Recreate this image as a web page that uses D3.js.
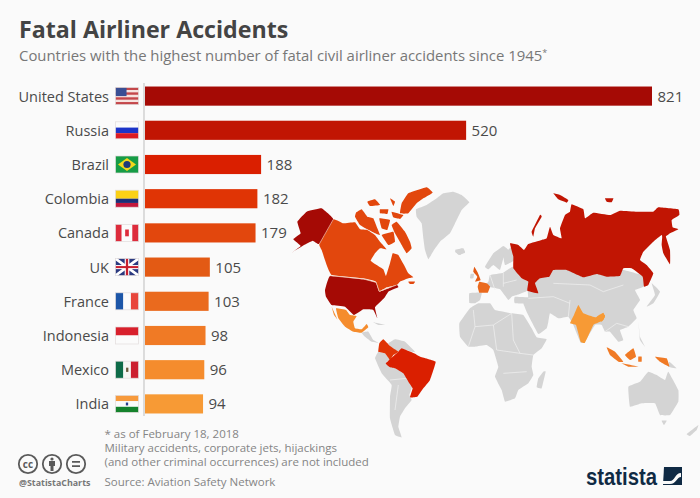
<!DOCTYPE html>
<meta charset="utf-8">
<script src="https://d3js.org/d3.v7.min.js"></script>
<style>
body { margin: 0; background: #fafafa; }
svg { display: block; font-family: "Open Sans", sans-serif; }
</style>
<body>
<div class="chart"></div>
<script>

var countries = ["United States", "Russia", "Brazil", "Colombia", "Canada", "UK", "France", "Indonesia", "Mexico", "India"];
var accidents = [821, 520, 188, 182, 179, 105, 103, 98, 96, 94];
var barColors = ["#a50a05", "#c11503", "#da1f00", "#e03405", "#e2470d", "#e35a14", "#ea6a1e", "#f07a25", "#f58c2d", "#f79a35"];
var footnotes = ["* as of February 18, 2018", "Military accidents, corporate jets, hijackings", "(and other criminal occurrences) are not included"];

var grey = "#d4d4d4";
var colorOf = function(name) { return barColors[countries.indexOf(name)]; };

// map outlines, traced by eye. each zone is a crop of the picture at 3x: [left, top]
var zones = {A: [280, 170], B: [450, 170], C: [340, 310], D: [440, 250], E: [560, 260], F: [320, 290]};

var greyLand = [
  ["A", "408,118 440,105 470,85 490,70 520,65 545,75 568,97 545,120 530,150 510,190 480,215 462,240 445,268 435,240 430,205 425,160 410,140"],
  ["A", "525,245 545,235 555,245 540,255"],
  ["C", "145,100 165,88 195,95 225,125 215,125 190,118 175,125 150,108"],
  ["C", "105,145 115,125 135,130 150,150 140,155 145,168 165,172 185,175 200,195 218,225 208,255 215,270 195,295 180,320 175,350 185,382 165,375 150,325 150,260 155,225 125,190"],
  ["F", "125,128 145,125 160,150 175,158 155,155 135,140"],
  ["F", "160,97 195,105 175,105"],
  ["C", "358,40 390,-5 415,-20 450,-20 465,0 515,10 550,15 575,55 590,82 620,88 605,115 580,135 575,170 580,195 565,220 535,240 525,265 495,275 485,240 465,200 475,170 460,120 440,105 405,110 385,110 360,80"],
  ["C", "610,185 617,185 605,235 590,232 595,205"],
  ["C", "865,230 900,215 925,185 950,195 975,210 985,185 1015,240 1015,275 990,315 960,315 945,280 905,280 870,290"],
  ["C", "965,332 980,332 972,345"],
  ["C", "1040,372 1075,345 1070,360 1050,378"],
  ["D", "88,130 125,128 120,150 105,160 88,158"],
  ["D", "118,125 145,95 150,75 190,68 218,50 245,85 264,95 262,122 230,135 215,140 205,150 180,118 150,112"],
  ["D", "135,50 160,10 190,-12 205,0 190,25 180,60 160,45 145,58"],
  ["D", "190,15 215,-10 225,30 195,45"],
  ["D", "92,72 102,72 100,85 90,85"],
  ["D", "225,140 305,145 300,160 225,160"],
  ["D", "45,0 70,-5 75,8 55,14"],
  ["E", "-100,20 0,20 100,30 190,30 260,50 250,80 225,90 240,120 220,150 230,175 205,200 180,210 190,240 175,245 150,215 135,215 125,195 105,195 75,245 62,248 40,195 25,170 -5,175 -30,160 -35,185 -40,205 -65,222 -98,160 -110,130 -95,115"],
  ["E", "275,70 300,95 280,130 260,140 285,105"],
  ["E", "235,180 240,230 255,260 240,240"],
  ["E", "328,305 350,325 325,320"]
];

var colouredLand = [
  ["Canada", "A", "160,148 190,160 225,157 240,178 262,180 285,195 300,215 320,238 300,235 285,250 272,272 290,285 310,298 318,318 330,280 338,250 355,255 372,285 385,310 400,322 385,325 360,335 350,345 320,352 298,364 288,335 250,325 155,315 140,285 125,240 118,222"],
  ["Canada", "A", "335,165 350,155 375,185 390,215 395,235 380,250 365,225 345,190"],
  ["Canada", "A", "228,128 245,118 262,140 280,145 290,170 300,195 285,190 262,178 240,165 225,140"],
  ["Canada", "A", "385,70 440,52 458,68 430,85 410,100 385,130 360,130 365,100"],
  ["Canada", "A", "262,95 285,88 300,105 270,108"],
  ["Canada", "A", "300,118 325,118 322,132 300,130"],
  ["Canada", "A", "330,85 345,95 340,108"],
  ["Canada", "A", "335,125 370,135 360,147 340,142"],
  ["Canada", "A", "298,145 330,150 322,180 305,175"],
  ["Canada", "A", "305,195 340,185 345,215 325,225"],
  ["Canada", "A", "385,335 405,335 400,342 390,342"],
  ["United States", "A", "160,148 118,222 98,212 72,225 35,248 62,228 40,208 62,190 52,155 80,125 125,115"],
  ["United States", "A", "150,318 250,328 288,338 298,365 350,345 355,352 325,365 312,385 285,412 292,445 280,420 250,418 222,435 195,410 155,405 138,380 135,360"],
  ["Mexico", "F", "48,55 78,60 90,75 110,78 100,95 105,115 125,118 140,102 145,112 125,128 100,125 75,110 55,85"],
  ["Mexico", "F", "35,50 45,72 52,88 42,75"],
  ["Colombia", "C", "130,88 150,108 175,125 160,135 150,150 135,130 115,125 118,100"],
  ["Brazil", "C", "137,160 175,125 185,115 222,130 240,140 287,155 270,210 250,235 232,260 210,262 218,235 205,215 190,190 165,175 150,172"],
  ["Russia", "B", "190,260 180,220 205,225 222,240 235,222 275,210 290,205 300,170 310,195 335,205 330,175 345,135 360,125 365,103 400,118 405,145 430,128 480,135 510,122 560,125 610,125 625,112 685,118 688,135 665,150 668,172 685,178 660,190 640,205 635,195 610,215 580,245 570,270 590,285 610,310 595,345 582,350 578,320 545,295 520,295 510,318 470,320 440,312 400,322 350,300 310,300 298,320 270,325 255,340 265,370 232,362 235,335 215,325 190,295"],
  ["Russia", "B", "638,190 645,192 660,240 660,283 640,250 635,225"],
  ["Russia", "B", "245,185 270,135 275,140 255,175 250,200"],
  ["Russia", "B", "310,70 330,75 355,90 350,98 325,88"],
  ["Russia", "B", "465,85 490,85 485,97 470,95"],
  ["France", "D", "118,95 140,100 150,110 143,128 118,128 113,110"],
  ["UK", "D", "103,50 112,65 122,90 105,95 112,80 100,65"],
  ["India", "E", "55,135 70,160 105,172 135,165 130,180 110,190 100,195 75,248 62,245 48,195 30,190 42,165"],
  ["India", "E", "110,170 130,158 135,170 125,185"],
  ["Indonesia", "E", "140,262 165,275 190,305 175,305 150,285"],
  ["Indonesia", "E", "195,285 220,265 228,290 210,300"],
  ["Indonesia", "E", "185,310 235,320 205,320"],
  ["Indonesia", "E", "235,290 245,290 245,305 235,305"],
  ["Indonesia", "E", "285,290 320,295 328,320 300,305"]
];

// a few white country borders on the grey land
var borders = [
  ["C", "400,0 405,50 385,110"], ["C", "405,50 460,45 515,10"], ["C", "460,45 470,120"], ["C", "470,120 540,130 580,135"],
  ["C", "515,10 520,90 540,130"], ["C", "490,190 560,185"], ["C", "150,210 200,205"], ["C", "165,300 175,225"],
  ["D", "150,75 165,120"], ["D", "190,68 190,110"], ["D", "230,90 190,100"],
  ["E", "-95,115 -20,110 30,130"], ["E", "-20,70 90,75 130,95 190,75"], ["E", "25,170 30,120"], ["E", "135,215 170,190 205,200"]
];

// pale line between the two northern neighbours
var usCanada = [
  ["A", "160,148 118,222"], ["A", "150,317 250,327 288,337 298,364 350,345"]
];

// flags in a 0-1 box: [x, y, w, h, colour]
var flags = {
  "United States": [[0, 0, 1, 1, "#f6e3df"], [0, 0, 1, .14, "#c4474a"], [0, .28, 1, .14, "#c4474a"], [0, .57, 1, .14, "#c4474a"], [0, .85, 1, .15, "#c4474a"], [0, 0, .48, .5, "#3a4f94"]],
  "Russia": [[0, 0, 1, .34, "#fbfbfb"], [0, .34, 1, .33, "#1c34c8"], [0, .67, 1, .33, "#dc1c24"]],
  "Brazil": [[0, 0, 1, 1, "#169c46"]],
  "Colombia": [[0, 0, 1, .5, "#fbd116"], [0, .5, 1, .25, "#1b2f78"], [0, .75, 1, .25, "#c3173c"]],
  "Canada": [[0, 0, .27, 1, "#dd2c3c"], [.27, 0, .46, 1, "#fbfbfb"], [.73, 0, .27, 1, "#dd2c3c"], [.42, .3, .16, .4, "#dd2c3c"]],
  "UK": [[0, 0, 1, 1, "#2b3a80"], [.4, 0, .2, 1, "#fff"], [0, .38, 1, .24, "#fff"], [.45, 0, .1, 1, "#c8202f"], [0, .44, 1, .12, "#c8202f"]],
  "France": [[0, 0, .34, 1, "#1c56a8"], [.34, 0, .33, 1, "#fbfbfb"], [.67, 0, .33, 1, "#e8463c"]],
  "Indonesia": [[0, 0, 1, .5, "#d8202c"], [0, .5, 1, .5, "#fbfbfb"]],
  "Mexico": [[0, 0, .34, 1, "#0e6b48"], [.34, 0, .33, 1, "#f6f6f4"], [.67, 0, .33, 1, "#cc1f30"], [.46, .38, .1, .25, "#6b5a3c"]],
  "India": [[0, 0, 1, .34, "#f79a3c"], [0, .34, 1, .33, "#fbfbfb"], [0, .67, 1, .33, "#15822c"], [.45, .42, .1, .17, "#2a3f8c"]]
};

var width = 700, height = 498;

var svg = d3.select(".chart").append("svg")
    .attr("width", width)
    .attr("height", height);

svg.append("rect").attr("width", width).attr("height", height).attr("fill", "#fafafa");

// Map first, the bars go above it
var map = svg.append("g");

var toPath = function(zone, pts, closed) {
  var z = zones[zone];
  var line = d3.line()
      .x(function(d) { return z[0] + d[0] / 3; })
      .y(function(d) { return z[1] + d[1] / 3; })
      .curve(closed ? d3.curveCardinalClosed.tension(0.75) : d3.curveLinear);
  return line(pts.split(" ").map(function(p) { return p.split(",").map(Number); }));
};

map.selectAll(".land")
    .data(greyLand)
  .enter().append("path")
    .attr("class", "land")
    .attr("d", function(d) { return toPath(d[0], d[1], true); })
    .attr("fill", grey);

map.selectAll(".border")
    .data(borders)
  .enter().append("path")
    .attr("class", "border")
    .attr("d", function(d) { return toPath(d[0], d[1], false); })
    .attr("fill", "none")
    .attr("stroke", "#f0f0f0")
    .attr("stroke-width", 0.7);

map.selectAll(".hit")
    .data(colouredLand)
  .enter().append("path")
    .attr("class", "hit")
    .attr("d", function(d) { return toPath(d[1], d[2], true); })
    .attr("fill", function(d) { return colorOf(d[0]); });

map.selectAll(".usca")
    .data(usCanada)
  .enter().append("path")
    .attr("class", "usca")
    .attr("d", function(d) { return toPath(d[0], d[1], false); })
    .attr("fill", "none")
    .attr("stroke", "#f6c9b0")
    .attr("stroke-width", 0.7);

// Bars
var x = d3.scaleLinear().domain([0, 821]).range([145, 652]);
var y = d3.scaleBand().domain(countries).range([79, 421]).paddingInner(0.44).paddingOuter(0.22);

svg.selectAll(".bar")
    .data(countries)
  .enter().append("rect")
    .attr("class", "bar")
    .attr("x", x(0))
    .attr("y", function(d) { return y(d); })
    .attr("width", function(d, i) { return x(accidents[i]) - x(0); })
    .attr("height", y.bandwidth())
    .attr("fill", function(d, i) { return barColors[i]; });

svg.append("line")
    .attr("x1", 144).attr("x2", 144)
    .attr("y1", 83).attr("y2", 416)
    .attr("stroke", "#bdbdbd");

svg.selectAll(".country")
    .data(countries)
  .enter().append("text")
    .attr("class", "country")
    .attr("x", 109)
    .attr("y", function(d) { return y(d) + y.bandwidth() / 2 + 5.5; })
    .attr("text-anchor", "end")
    .attr("font-size", 14.5)
    .attr("fill", "#4a4a4a")
    .text(function(d) { return d; });

svg.selectAll(".value")
    .data(countries)
  .enter().append("text")
    .attr("class", "value")
    .attr("x", function(d, i) { return x(accidents[i]) + 5.5; })
    .attr("y", function(d) { return y(d) + y.bandwidth() / 2 + 5.5; })
    .attr("font-size", 15)
    .attr("fill", "#4a4a4a")
    .text(function(d, i) { return accidents[i]; });

// Flags
var flagW = 23, flagH = 17;
var flag = svg.selectAll(".flag")
    .data(countries)
  .enter().append("g")
    .attr("class", "flag")
    .attr("transform", function(d) { return "translate(115.5," + (y(d) + y.bandwidth() / 2 - flagH / 2) + ")"; });

flag.selectAll("rect")
    .data(function(d) { return flags[d]; })
  .enter().append("rect")
    .attr("x", function(d) { return d[0] * flagW; })
    .attr("y", function(d) { return d[1] * flagH; })
    .attr("width", function(d) { return d[2] * flagW; })
    .attr("height", function(d) { return d[3] * flagH; })
    .attr("fill", function(d) { return d[4]; });

flag.append("rect")
    .attr("width", flagW).attr("height", flagH)
    .attr("fill", "none")
    .attr("stroke", "#e2dcdc")
    .attr("stroke-width", 0.7);

// Brazil diamond and globe, UK diagonals
var brazil = flag.filter(function(d) { return d == "Brazil"; });
brazil.append("path").attr("d", "M2.5,8.5L11.5,2L20.5,8.5L11.5,15Z").attr("fill", "#f4d71c");
brazil.append("circle").attr("cx", 11.5).attr("cy", 8.5).attr("r", 3.6).attr("fill", "#1f3a7a");

var uk = flag.filter(function(d) { return d == "UK"; });
uk.insert("path", "rect:nth-child(2)")
    .attr("d", "M0,0L23,17M23,0L0,17")
    .attr("stroke", "#fff").attr("stroke-width", 2.6);

// Titles
svg.append("text")
    .attr("x", 19).attr("y", 38)
    .attr("font-size", 23.2).attr("font-weight", 700)
    .attr("fill", "#444")
    .text("Fatal Airliner Accidents");

var sub = svg.append("text")
    .attr("x", 19).attr("y", 61)
    .attr("font-size", 14.9)
    .attr("fill", "#777")
    .text("Countries with the highest number of fatal civil airliner accidents since 1945");
sub.append("tspan").attr("font-size", 9).attr("dy", -5).text("*");

// Footer
svg.selectAll(".note")
    .data(footnotes)
  .enter().append("text")
    .attr("class", "note")
    .attr("x", 104.5)
    .attr("y", function(d, i) { return 438 + i * 14; })
    .attr("font-size", 11.5)
    .attr("fill", "#858585")
    .text(function(d) { return d; });

svg.append("text")
    .attr("x", 104.5).attr("y", 486)
    .attr("font-size", 11.5)
    .attr("fill", "#858585")
    .text("Source: Aviation Safety Network");

svg.append("text")
    .attr("x", 19).attr("y", 485.5)
    .attr("font-size", 8.9).attr("font-weight", 700)
    .attr("fill", "#777")
    .text("@StatistaCharts");

var icons = svg.selectAll(".icon")
    .data([28, 52, 76])
  .enter().append("g")
    .attr("class", "icon")
    .attr("transform", function(d) { return "translate(" + d + ",464)"; });

icons.append("circle")
    .attr("r", 9.2)
    .attr("fill", "none")
    .attr("stroke", "#5a5a5a")
    .attr("stroke-width", 1.8);

d3.select(icons.nodes()[0]).append("text")
    .attr("text-anchor", "middle").attr("y", 3.5)
    .attr("font-size", 10).attr("font-weight", 700).attr("fill", "#5a5a5a")
    .text("cc");

d3.select(icons.nodes()[1]).append("path")
    .attr("d", "M-3,-3H3V2H1.5V7H-1.5V2H-3Z")
    .attr("fill", "#5a5a5a");
d3.select(icons.nodes()[1]).append("circle")
    .attr("cy", -5).attr("r", 1.6)
    .attr("fill", "#5a5a5a");

d3.select(icons.nodes()[2]).append("path")
    .attr("d", "M-4,-2.2H4M-4,2.2H4")
    .attr("stroke", "#5a5a5a").attr("stroke-width", 1.8);

// Logo
svg.append("text")
    .attr("x", 586).attr("y", 485)
    .attr("font-family", "'Liberation Sans Narrow', 'Liberation Sans', sans-serif")
    .attr("font-size", 24).attr("font-weight", 700)
    .attr("fill", "#0f2a44")
    .attr("textLength", 71)
    .attr("lengthAdjust", "spacingAndGlyphs")
    .text("statista");

svg.append("path")
    .attr("d", "M664,467H682V485H663Z")
    .attr("fill", "#0f2a44");
svg.append("path")
    .attr("d", "M663,481H670C675,481 675,473 681,473V477C677,477 676,484 670,484H663Z")
    .attr("fill", "#fafafa");

</script>
</body>
</html>
